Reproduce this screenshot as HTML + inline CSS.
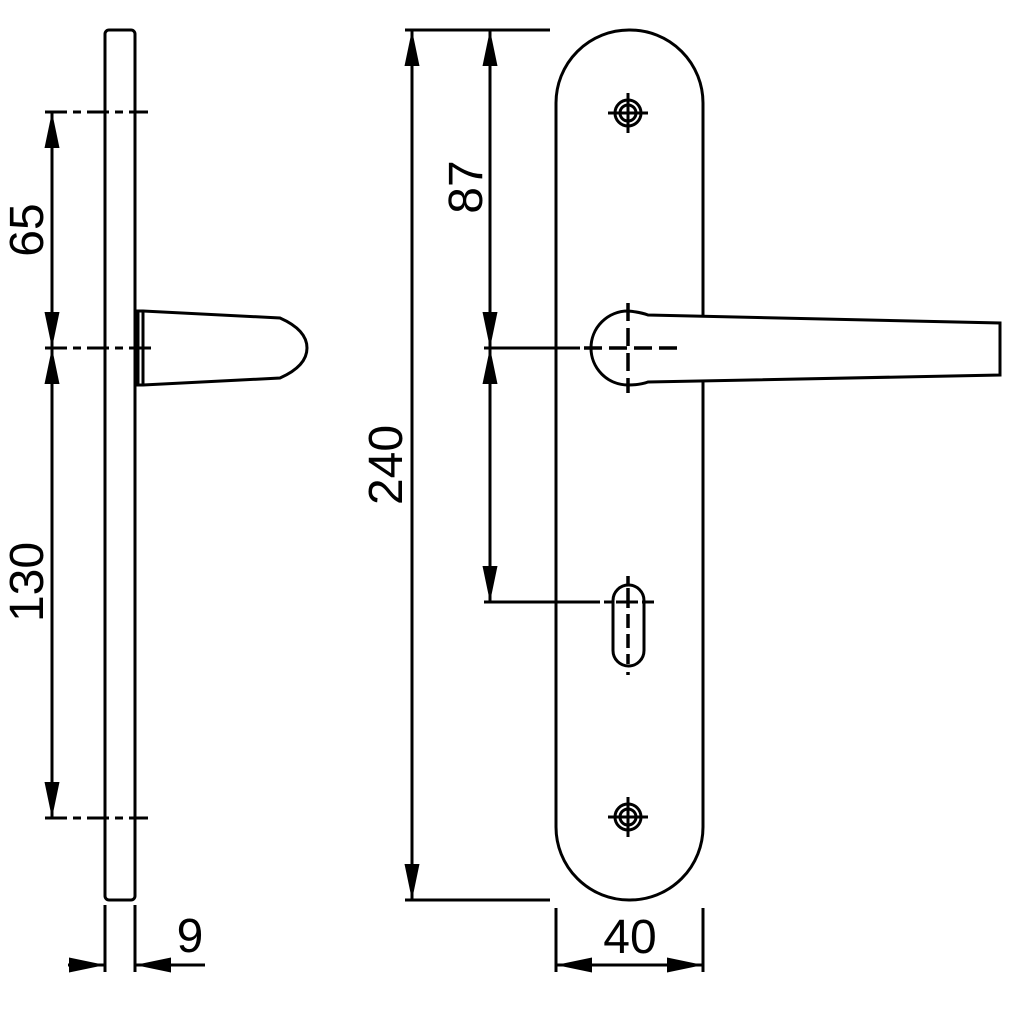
<!DOCTYPE html>
<html><head><style>body{margin:0;background:#fff}svg{display:block}</style></head><body>
<svg width="1013" height="1024" viewBox="0 0 1013 1024" xmlns="http://www.w3.org/2000/svg">
<defs>
<marker id="a" viewBox="0 0 10 10" refX="10" refY="5" markerWidth="36" markerHeight="15" markerUnits="userSpaceOnUse" orient="auto-start-reverse" preserveAspectRatio="none"><path d="M0,0L10,5L0,10z" fill="#000"/></marker>
</defs>
<g fill="none" stroke="#000" stroke-width="3">
<rect x="105" y="30" width="30" height="870" rx="4"/>
<path d="M138,311 L143,311 L280,318 Q307,330 307,348 Q307,366 280,378 L143,385 L138,385 Z" fill="#fff"/>
<line x1="143" y1="311" x2="143" y2="385"/>
<g stroke-dasharray="22,6,8,6">
<line x1="45" y1="112" x2="148" y2="112"/>
<line x1="45" y1="348" x2="152" y2="348"/>
<line x1="45" y1="818" x2="148" y2="818"/>
</g>
<line x1="52" y1="112" x2="52" y2="348" marker-start="url(#a)" marker-end="url(#a)"/>
<line x1="52" y1="348" x2="52" y2="818" marker-start="url(#a)" marker-end="url(#a)"/>
<line x1="105" y1="905" x2="105" y2="972"/>
<line x1="135" y1="905" x2="135" y2="972"/>
<line x1="68" y1="965" x2="105" y2="965" marker-end="url(#a)"/>
<line x1="205" y1="965" x2="135" y2="965" marker-end="url(#a)"/>
<rect x="556" y="30" width="147" height="870" rx="73"/>
<line x1="405" y1="30" x2="550" y2="30"/>
<line x1="405" y1="900" x2="550" y2="900"/>
<line x1="412" y1="30" x2="412" y2="900" marker-start="url(#a)" marker-end="url(#a)"/>
<line x1="490" y1="30" x2="490" y2="348" marker-start="url(#a)" marker-end="url(#a)"/>
<line x1="490" y1="348" x2="490" y2="602" marker-start="url(#a)" marker-end="url(#a)"/>
<line x1="484" y1="348" x2="580" y2="348"/>
<line x1="484" y1="602" x2="600" y2="602"/>
<path d="M628,311 A37,37 0 0 0 628,385" fill="#fff"/>
<path d="M628,311 Q640,312 648,315 L1000,323 L1000,375 L648,382 Q640,385 628,385" fill="#fff"/>
<g stroke-dasharray="18,7" stroke-width="3.5">
<line x1="584" y1="348" x2="678" y2="348"/>
<line x1="628" y1="303" x2="628" y2="393"/>
</g>
<g>
<circle cx="628" cy="113" r="13"/><circle cx="628" cy="113" r="8"/>
<line x1="608" y1="113" x2="648" y2="113"/><line x1="628" y1="93" x2="628" y2="133"/>
<circle cx="628" cy="817" r="13"/><circle cx="628" cy="817" r="8"/>
<line x1="608" y1="817" x2="648" y2="817"/><line x1="628" y1="797" x2="628" y2="837"/>
</g>
<rect x="613" y="585" width="31" height="81" rx="15.5"/>
<line x1="604" y1="602" x2="654" y2="602" stroke-dasharray="8,4,22,4,12"/>
<line x1="628" y1="576" x2="628" y2="675" stroke-width="3.5" stroke-dasharray="8,4,20,6,14,6,14,6,10"/>
<line x1="556" y1="908" x2="556" y2="972"/>
<line x1="703" y1="908" x2="703" y2="972"/>
<line x1="556" y1="965" x2="703" y2="965" marker-start="url(#a)" marker-end="url(#a)"/>
</g>
<g font-family="Liberation Sans, sans-serif" font-size="48" fill="#000" text-anchor="middle">
<text x="190" y="952">9</text>
<text x="630" y="953">40</text>
<text transform="translate(43,230) rotate(-90)">65</text>
<text transform="translate(43,582) rotate(-90)">130</text>
<text transform="translate(402,465) rotate(-90)">240</text>
<text transform="translate(482,187) rotate(-90)">87</text>
</g>
</svg>
</body></html>
